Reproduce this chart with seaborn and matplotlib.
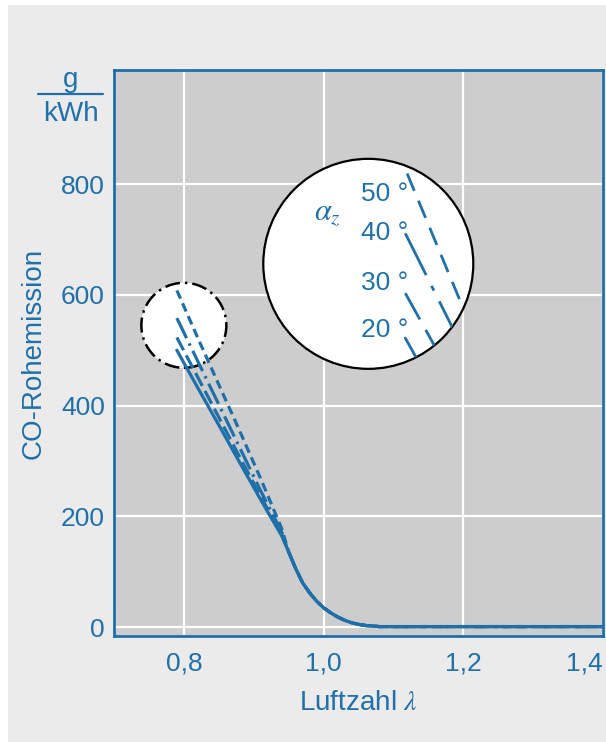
import numpy as np
import pandas as pd
import seaborn as sns
import matplotlib
matplotlib.use("Agg")
import matplotlib.pyplot as plt
from matplotlib.patches import Ellipse, Rectangle
from matplotlib.lines import Line2D

# ignition angle series (rich branch, before the curves merge)
angles = ["20 °", "30 °", "40 °", "50 °"]
lam_rich = [0.79, 0.82, 0.85, 0.88, 0.91, 0.94]
co_20 = [500, 432, 365, 297, 230, 165]
co_30 = [523, 451, 379, 307, 236, 168]
co_40 = [558, 480, 402, 324, 246, 172]
co_50 = [608, 522, 438, 354, 268, 178]

# common branch for all ignition angles
lam_tail = [0.95, 0.96, 0.97, 0.98, 0.99, 1.00, 1.01, 1.02, 1.03, 1.04,
            1.05, 1.06, 1.07, 1.08, 1.10, 1.20, 1.30, 1.40]
co_tail = [136, 106, 80, 62, 47, 35, 26, 18.5, 12.5, 8,
           5, 3, 2, 1, 1, 1, 1, 1]

x_ticks = [0.8, 1.0, 1.2, 1.4]
x_tick_labels = ["0,8", "1,0", "1,2", "1,4"]
y_ticks = [0, 200, 400, 600, 800]

BLUE = "#1f6fa9"
TXT = "#2070aa"

rich = {"20 °": co_20, "30 °": co_30, "40 °": co_40, "50 °": co_50}
rows = []
for a in angles:
    for lx, cy in zip(lam_rich, rich[a]):
        rows.append((a, lx, cy))
    for lx, cy in zip(lam_tail, co_tail):
        rows.append((a, lx, cy))
df = pd.DataFrame(rows, columns=["angle", "lam", "co"])

dash_map = {"20 °": "", "30 °": (4.5, 1.8), "40 °": (7, 1.8, 0.8, 1.8), "50 °": (2.8, 1.6)}

sns.set_theme(style="darkgrid", rc={
    "axes.facecolor": "#cdcdcd",
    "grid.color": "white",
    "grid.linewidth": 1.6,
    "axes.edgecolor": BLUE,
    "axes.linewidth": 2.0,
})
plt.rcParams["font.family"] = ["Liberation Sans", "DejaVu Sans"]
plt.rcParams["mathtext.fontset"] = "stix"

W, H = 606, 742
fig = plt.figure(figsize=(W / 100, H / 100), dpi=100, facecolor="white")
fig.add_artist(Rectangle((8 / W, 0), 1, 1 - 5 / H, transform=fig.transFigure,
                         facecolor="#ebebeb", edgecolor="none", zorder=-5))

ax_l, ax_r, ax_t, ax_b = 114, 603, 70, 636
ax = fig.add_axes([ax_l / W, 1 - ax_b / H, (ax_r - ax_l) / W, (ax_b - ax_t) / H])
xlim = (0.70, 1.40)
ylim = (-16, 1006)
ax.set_xlim(*xlim)
ax.set_ylim(*ylim)

px_x = (ax_r - ax_l) / (xlim[1] - xlim[0])   # pixels per lambda unit
px_y = (ax_b - ax_t) / (ylim[1] - ylim[0])   # pixels per g/kWh

def circle(cx, cy, r_px, **kw):
    return Ellipse((cx, cy), 2 * r_px / px_x, 2 * r_px / px_y, **kw)

# zoom circle on the rich end and enlarged key circle
small = circle(0.80, 545, 42.5, facecolor="white", edgecolor="black",
               linewidth=1.8, linestyle=(0, (6, 2, 1, 2)), zorder=2)
big = circle(1.064, 656, 105, facecolor="white", edgecolor="black",
             linewidth=1.6, zorder=2)
ax.add_patch(small)
ax.add_patch(big)

sns.lineplot(data=df, x="lam", y="co", hue="angle", style="angle",
             palette={a: BLUE for a in angles}, dashes=dash_map,
             linewidth=2.3, legend=False, errorbar=None, ax=ax, zorder=3)

# key lines inside the large circle
key_start = {"50 °": (1.1196, 819, 2.4), "40 °": (1.117, 711, 2.0),
             "30 °": (1.117, 603, 1.8), "20 °": (1.117, 522, 1.8)}
for a, (sx, sy, slope) in key_start.items():
    dx_px = 120
    ex = sx + dx_px / px_x
    ey = sy - slope * dx_px / px_y
    ln = Line2D([sx, ex], [sy, ey], color=BLUE, linewidth=2.0, zorder=4)
    if dash_map[a]:
        ln.set_dashes(tuple(v * 2.4 for v in dash_map[a]))
    ax.add_line(ln)
    ln.set_clip_path(big)

for a, ty in zip(["50 °", "40 °", "30 °", "20 °"], [783, 711, 621, 536]):
    ax.text(1.053, ty, a, color=TXT, fontsize=19, ha="left", va="center", zorder=5)
ax.text(1.006, 747, r"$\alpha_z$", color=TXT, fontsize=22, ha="center",
        va="center", zorder=5)

ax.set_xticks(x_ticks)
ax.set_xticklabels(x_tick_labels)
ax.set_yticks(y_ticks)
ax.tick_params(axis="both", length=0, labelsize=19, labelcolor=TXT)
ax.tick_params(axis="x", pad=11)
ax.tick_params(axis="y", pad=6.5)
ax.get_xticklabels()[-1].set_horizontalalignment("right")
ax.grid(True)
ax.set_axisbelow(True)

ax.set_xlabel(r"Luftzahl $\lambda$", color=TXT, fontsize=20)
ax.set_ylabel("CO-Rohemission", color=TXT, fontsize=20)
ax.xaxis.set_label_coords(0.5, -0.095)
ax.yaxis.set_label_coords(-0.138, 0.5)

# unit g / kWh above the y axis
fig.text(71 / W, 1 - 87 / H, "g", color=TXT, fontsize=20, ha="center", va="baseline")
fig.text(71 / W, 1 - 121 / H, "kWh", color=TXT, fontsize=20, ha="center", va="baseline")
fig.add_artist(Line2D([38 / W, 103 / W], [1 - 94 / H, 1 - 94 / H],
                      transform=fig.transFigure, color=TXT, linewidth=1.6))

fig.savefig("out.png", dpi=100, facecolor=fig.get_facecolor())
